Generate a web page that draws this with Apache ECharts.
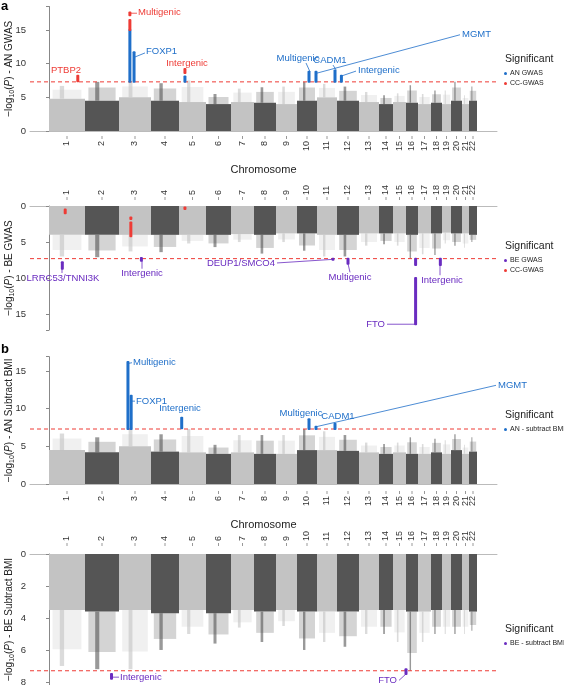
<!DOCTYPE html>
<html>
<head>
<meta charset="utf-8">
<script src="https://cdn.jsdelivr.net/npm/echarts@6.0.0/dist/echarts.min.js"></script>
<style>
  html, body { margin: 0; padding: 0; background: #fff; }
  #chart { width: 564px; height: 685px; }
</style>
</head>
<body>
<div id="chart"></div>
<script>
// Chromosome widths (in plot units)
var chromNames = ['1','2','3','4','5','6','7','8','9','10','11','12','13','14','15','16','17','18','19','20','21','22'];
var chromWidths = [36, 34, 32, 28, 27, 25, 23, 22, 21, 20, 20, 22, 20, 14, 13, 12, 13, 11, 9, 11, 7, 8];

// Genome-wide significance, -log10(5e-8)
var threshold = 7.3;

// Dense body height and sparse peak height per chromosome
var anBody  = [4.8, 4.5, 5.0, 4.5, 4.3, 4.0, 4.3, 4.2, 4.0, 4.5, 5.0, 4.5, 4.3, 4.0, 4.3, 4.2, 4.0, 4.2, 4.0, 4.5, 4.0, 4.5];
var anPeak  = [6.7, 7.3, 7.3, 7.1, 7.5, 5.5, 6.3, 6.5, 6.6, 7.3, 7.0, 6.6, 5.8, 5.3, 5.6, 6.8, 5.5, 6.0, 6.0, 7.3, 5.3, 6.6];
var beBody  = [4.0, 4.0, 4.0, 4.0, 4.0, 4.0, 3.9, 4.0, 3.8, 3.8, 4.0, 4.0, 3.8, 3.8, 3.8, 4.0, 3.8, 3.8, 3.7, 3.8, 3.8, 4.0];
var bePeak  = [7.0, 7.1, 6.3, 6.4, 5.2, 5.7, 5.0, 6.6, 5.0, 6.2, 7.0, 7.0, 5.5, 5.3, 5.5, 7.3, 6.7, 6.8, 5.2, 5.5, 5.8, 5.0];
var anBmiBody = [4.5, 4.2, 5.0, 4.3, 4.2, 4.0, 4.2, 4.0, 4.0, 4.5, 4.5, 4.4, 4.2, 4.0, 4.2, 4.0, 4.0, 4.2, 4.0, 4.5, 4.0, 4.3];
var anBmiPeak = [6.7, 6.2, 7.3, 6.6, 7.3, 5.2, 6.5, 6.5, 6.5, 7.3, 7.0, 6.5, 5.5, 5.3, 5.5, 6.2, 5.3, 6.0, 5.8, 6.6, 5.2, 6.2];
var beBmiBody = [3.5, 3.6, 3.5, 3.7, 3.5, 3.7, 3.5, 3.6, 3.5, 3.6, 3.6, 3.6, 3.5, 3.5, 3.5, 3.6, 3.6, 3.5, 3.5, 3.5, 3.5, 3.6];
var beBmiPeak = [7.0, 7.2, 7.2, 6.0, 5.0, 5.6, 4.6, 5.5, 4.5, 6.0, 5.5, 5.8, 5.0, 5.0, 5.5, 7.3, 5.5, 5.0, 5.0, 5.0, 5.0, 4.8];

// Significant hits: [chromosome index, fraction along chromosome, low, high]
var anHitsBlue = [[2, 0.34, 7.3, 15.0], [2, 0.47, 7.3, 11.7], [4, 0.22, 7.3, 8.1], [9, 0.6, 7.3, 8.8], [9, 0.95, 7.3, 8.8], [10, 0.9, 7.3, 9.0], [11, 0.2, 7.3, 8.2]];
var anHitsRed  = [[0, 0.8, 7.4, 8.2], [2, 0.34, 15.0, 16.5], [2, 0.34, 17.2, 17.6], [4, 0.22, 8.6, 9.2]];
var beHitsPurple = [[0, 0.37, 7.8, 8.7], [2, 0.7, 7.2, 7.6], [10, 0.8, 7.3, 7.45], [11, 0.5, 7.3, 8.0], [15, 0.8, 7.3, 8.2], [15, 0.8, 10.0, 16.4], [17, 0.85, 7.3, 8.2]];
var beHitsRed  = [[0, 0.45, 0.5, 1.0], [2, 0.37, 1.6, 1.8], [2, 0.37, 2.3, 4.2], [4, 0.22, 0.2, 0.4]];
var anBmiHits  = [[2, 0.28, 7.3, 16.2], [2, 0.38, 7.3, 11.7], [4, 0.1, 7.4, 8.8], [9, 0.6, 7.3, 8.6], [9, 0.95, 7.3, 7.6], [10, 0.9, 7.3, 8.0]];
var beBmiHits  = [[1, 0.78, 7.5, 7.8], [15, 0.0, 7.2, 7.5]];

// Gene labels: [text, x, y, align, leader line or null, colour]
var anNotes = [
  ['PTBP2', 17, 9.0, 'center', null, 'red'],
  ['Multigenic', 89, 17.6, 'left', [82, 17.5, 88, 17.5], 'red'],
  ['FOXP1', 97, 11.8, 'left', [86, 11.0, 96, 11.6], 'blue'],
  ['Intergenic', 138, 10.0, 'center', null, 'red'],
  ['Multigenic', 249, 10.8, 'center', [257, 10.1, 261, 8.8], 'blue'],
  ['CADM1', 281, 10.5, 'center', [284, 9.8, 287, 9.1], 'blue'],
  ['Intergenic', 309, 9.0, 'left', [307, 8.9, 293, 8.2], 'blue'],
  ['MGMT', 413, 14.3, 'left', [411, 14.3, 268, 8.6], 'blue']
];
var beNotes = [
  ['LRRC53/TNNI3K', 14, 10.0, 'center', [13, 8.7, 13, 9.3], 'purple'],
  ['Intergenic', 93, 9.4, 'center', [93, 7.6, 93, 8.7], 'purple'],
  ['DEUP1/SMCO4', 226, 7.9, 'right', [228, 7.9, 284, 7.4], 'purple'],
  ['Multigenic', 301, 9.9, 'center', [299, 8.0, 301, 9.2], 'purple'],
  ['Intergenic', 393, 10.3, 'center', [391, 8.2, 391, 9.6], 'purple'],
  ['FTO', 336, 16.4, 'right', [338, 16.4, 366, 16.4], 'purple']
];
var anBmiNotes = [
  ['Multigenic', 84, 16.1, 'left', [79, 16.0, 83, 16.1], 'blue'],
  ['FOXP1', 87, 11.0, 'left', [83, 11.0, 86, 11.0], 'blue'],
  ['Intergenic', 131, 10.0, 'center', null, 'blue'],
  ['Multigenic', 252, 9.4, 'center', null, 'blue'],
  ['CADM1', 289, 9.0, 'center', null, 'blue'],
  ['MGMT', 449, 13.1, 'left', [447, 13.1, 267, 7.6], 'blue']
];
var beBmiNotes = [
  ['Intergenic', 71, 7.7, 'left', [63, 7.7, 70, 7.7], 'purple'],
  ['FTO', 348, 7.9, 'right', [350, 7.9, 357, 7.5], 'purple']
];

var colors = { blue: '#1f6fc9', red: '#ee3b35', purple: '#6a2cc0', light: '#c3c3c3', dark: '#555555' };

var chromStart = [];
(function () {
  var s = 0;
  chromWidths.forEach(function (w) { chromStart.push(s); s += w; });
})();

var chart = echarts.init(document.getElementById('chart'), null, { renderer: 'canvas' });

var panels = [
  { top: 6.5, height: 124.5, max: 18.5, inverse: false, name: 'AN GWAS', body: anBody, peak: anPeak,
    hits: [['AN GWAS', anHitsBlue, colors.blue], ['CC-GWAS', anHitsRed, colors.red]], notes: anNotes, offset: 5, xname: 'Chromosome', legendTop: 54 },
  { top: 206, height: 124, max: 17.2, inverse: true, name: 'BE GWAS', body: beBody, peak: bePeak,
    hits: [['BE GWAS', beHitsPurple, colors.purple], ['CC-GWAS', beHitsRed, colors.red]], notes: beNotes, offset: 6, xname: '', legendTop: 241 },
  { top: 356.7, height: 127.3, max: 16.9, inverse: false, name: 'AN Subtract BMI', body: anBmiBody, peak: anBmiPeak,
    hits: [['AN - subtract BMI', anBmiHits, colors.blue]], notes: anBmiNotes, offset: 7, xname: 'Chromosome', legendTop: 410 },
  { top: 554, height: 131, max: 8.19, inverse: true, name: 'BE Subtract BMI', body: beBmiBody, peak: beBmiPeak,
    hits: [['BE - subtract BMI', beBmiHits, colors.purple]], notes: beBmiNotes, offset: 8, xname: '', legendTop: 624 }
];

var grids = [], xAxes = [], yAxes = [], series = [], legends = [], titles = [];
var font = 'Liberation Sans';
var xMin = -19, xMax = 448;

panels.forEach(function (p, i) {
  var step = p.max < 10 ? 2 : 5;
  grids.push({ left: 30, right: 67, top: p.top, height: p.height, outerBoundsMode: 'none', containLabel: false });
  xAxes.push({
    gridIndex: i, type: 'value', min: xMin, max: xMax,
    position: p.inverse ? 'top' : 'bottom', offset: p.offset,
    axisLine: { lineStyle: { color: '#bbb' } }, axisTick: { show: false },
    axisLabel: { show: false }, splitLine: { show: false },
    name: p.xname, nameLocation: 'middle', nameGap: 28, nameMoveOverlap: false,
    nameTextStyle: { fontFamily: font, fontSize: 11, color: '#222' }
  });
  yAxes.push({
    gridIndex: i, type: 'value', min: 0, max: p.max, interval: step,
    inverse: p.inverse,
    axisLine: { show: true, lineStyle: { color: '#888' } },
    axisTick: { show: true, length: 3, lineStyle: { color: '#888' } },
    axisLabel: { fontFamily: font, fontSize: 9.5, color: '#333', margin: 4, showMaxLabel: true,
      formatter: function (v) { return (Math.abs(v / step - Math.round(v / step)) > 1e-6) ? '' : String(v); } },
    splitLine: { show: false },
    name: '\u2212log{s|10}({i|P}) - ' + p.name, nameLocation: 'middle', nameGap: 14, nameMoveOverlap: false,
    nameTextStyle: { fontFamily: font, fontSize: 10, color: '#222',
      rich: { s: { fontSize: 7, fontFamily: font, padding: [6, 0, 0, 0] }, i: { fontStyle: 'italic', fontSize: 10, fontFamily: font } } }
  });

  // chromosome columns
  series.push({
    type: 'custom', xAxisIndex: i, yAxisIndex: i, silent: true,
    data: chromWidths.map(function (w, c) { return [chromStart[c] + w / 2, p.body[c]]; }),
    renderItem: function (params, api) {
      var c = params.dataIndex;
      var a = api.coord([chromStart[c], 0]);
      var b = api.coord([chromStart[c] + chromWidths[c], p.body[c]]);
      var t = api.coord([chromStart[c] + chromWidths[c], p.peak[c]]);
      var col = c % 2 === 0 ? colors.light : colors.dark;
      var w = b[0] - a[0];
      var span = Math.abs(t[1] - b[1]);
      var top = Math.min(b[1], t[1]);
      return { type: 'group', children: [
        { type: 'rect', shape: { x: a[0], y: Math.min(a[1], b[1]), width: w, height: Math.abs(b[1] - a[1]) }, style: { fill: col } },
        { type: 'rect', shape: { x: a[0] + w * 0.3, y: top, width: w * 0.12, height: span }, style: { fill: col, opacity: 0.6 } },
        { type: 'rect', shape: { x: a[0] + w * 0.1, y: p.inverse ? top : top + span * 0.3, width: w * 0.8, height: span * 0.7 }, style: { fill: col, opacity: 0.25 } }
      ] };
    },
    z: 2
  });

  // chromosome labels and the threshold line
  series.push({
    type: 'custom', xAxisIndex: i, yAxisIndex: i, silent: true, clip: false, z: 3,
    data: chromWidths.map(function (w, c) { return [chromStart[c] + w / 2, 0]; }),
    renderItem: function (params, api) {
      var c = params.dataIndex;
      var pt = api.coord([chromStart[c] + chromWidths[c] / 2, 0]);
      var dir = p.inverse ? -1 : 1;
      var axisY = pt[1] + dir * p.offset;
      var ch = [
        { type: 'line', shape: { x1: pt[0], y1: axisY, x2: pt[0], y2: axisY + dir * 3 }, style: { stroke: '#999', lineWidth: 1 } },
        { type: 'text', x: pt[0], y: axisY + dir * 5, rotation: Math.PI / 2,
          style: { text: chromNames[c], fontFamily: font, fontSize: 9, fill: '#333',
            align: p.inverse ? 'left' : 'right', verticalAlign: 'middle' } }
      ];
      if (c === 0) {
        var l = api.coord([xMin, threshold]), r = api.coord([xMax, threshold]);
        ch.push({ type: 'line', shape: { x1: l[0], y1: l[1], x2: r[0], y2: r[1] },
          style: { stroke: colors.red, lineWidth: 1, lineDash: [4, 3] } });
      }
      return { type: 'group', children: ch };
    }
  });

  // significant hits
  p.hits.forEach(function (h) {
    var list = h[1];
    series.push({
      name: h[0], type: 'custom', xAxisIndex: i, yAxisIndex: i, itemStyle: { color: h[2] },
      data: list.map(function (d) { return [chromStart[d[0]] + chromWidths[d[0]] * d[1], d[3]]; }),
      renderItem: function (params, api) {
        var d = list[params.dataIndex];
        var x = chromStart[d[0]] + chromWidths[d[0]] * d[1];
        var lo = api.coord([x, d[2]]), hi = api.coord([x, d[3]]);
        return { type: 'rect', shape: { x: lo[0] - 1.5, y: Math.min(lo[1], hi[1]) - 1, width: 3, height: Math.abs(hi[1] - lo[1]) + 2, r: 1 },
          style: { fill: h[2] } };
      },
      z: 4
    });
  });

  // gene annotations
  series.push({
    type: 'custom', xAxisIndex: i, yAxisIndex: i, silent: true, clip: false, z: 5,
    data: p.notes.map(function (n) { return [n[1], n[2]]; }),
    renderItem: function (params, api) {
      var n = p.notes[params.dataIndex];
      var col = colors[n[5]];
      var pt = api.coord([n[1], n[2]]);
      var ch = [{ type: 'text', x: pt[0], y: pt[1],
        style: { text: n[0], fontFamily: font, fontSize: 9.5, fill: col, align: n[3], verticalAlign: 'middle' } }];
      if (n[4]) {
        var a = api.coord([n[4][0], n[4][1]]), b = api.coord([n[4][2], n[4][3]]);
        ch.push({ type: 'line', shape: { x1: a[0], y1: a[1], x2: b[0], y2: b[1] }, style: { stroke: col, lineWidth: 0.8 } });
      }
      return { type: 'group', children: ch };
    }
  });

  titles.push({ text: 'Significant', left: 505, top: p.legendTop, padding: 0,
    textStyle: { fontFamily: font, fontSize: 10.5, fontWeight: 'normal', color: '#222' } });
  legends.push({
    data: p.hits.map(function (h) { return h[0]; }), orient: 'vertical', left: 504, top: p.legendTop + 16,
    padding: 0, icon: 'circle', itemWidth: 3, itemHeight: 3, itemGap: 3, selectedMode: false,
    textStyle: { fontFamily: font, fontSize: 7, color: '#222', padding: [0, 0, 0, -2] }
  });
});

titles.push({ text: 'a', left: 1, top: 0, padding: 0, textStyle: { fontFamily: font, fontSize: 13, fontWeight: 'bold', color: '#000' } });
titles.push({ text: 'b', left: 1, top: 343, padding: 0, textStyle: { fontFamily: font, fontSize: 13, fontWeight: 'bold', color: '#000' } });

chart.setOption({
  animation: false,
  backgroundColor: '#fff',
  title: titles,
  legend: legends,
  grid: grids,
  xAxis: xAxes,
  yAxis: yAxes,
  series: series
});
</script>
</body>
</html>
